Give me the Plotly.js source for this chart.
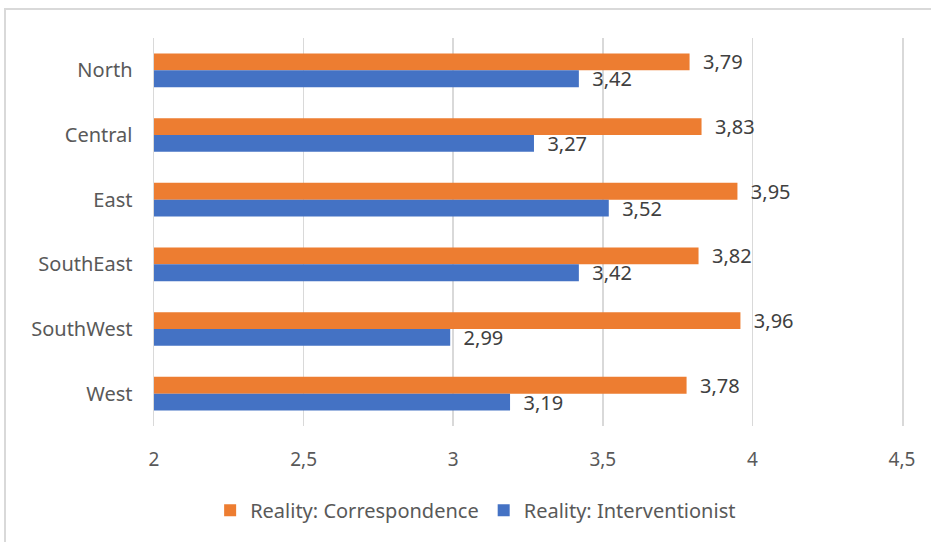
<!DOCTYPE html>
<html>
<head>
<meta charset="utf-8">
<script src="https://cdn.plot.ly/plotly-3.0.1.min.js"></script>
<style>
  html, body { margin: 0; padding: 0; background: #fff; }
  #wrap { position: relative; width: 931px; height: 542px; overflow: hidden; }
  #chart { position: absolute; left: 0; top: 0; width: 931px; height: 542px; }
  #frame { position: absolute; left: 4px; top: 8px; width: 940px; height: 560px;
           border-left: 2px solid #d9d9d9; border-top: 2px solid #d9d9d9; pointer-events: none; }
</style>
</head>
<body>
<div id="wrap">
  <div id="chart"></div>
  <div id="frame"></div>
</div>
<script>
const categories = ["North", "Central", "East", "SouthEast", "SouthWest", "West"];
const correspondence = [3.79, 3.83, 3.95, 3.82, 3.96, 3.78];
const interventionist = [3.42, 3.27, 3.52, 3.42, 2.99, 3.19];
const seriesNames = ["Reality: Correspondence", "Reality: Interventionist"];
const tickVals = [2, 2.5, 3, 3.5, 4, 4.5];

const FONT = "Noto Sans, Open Sans, sans-serif";
const pad = "\u00a0\u00a0";

const traces = [
  {
    type: "bar", orientation: "h", name: seriesNames[0],
    y: categories, x: correspondence,
    marker: { color: "#ED7D31" },
    texttemplate: pad + "%{x:.2f}", textposition: "outside", constraintext: "none",
    textfont: { family: FONT, size: 20, color: "#404040" },
    cliponaxis: false, hoverinfo: "skip"
  },
  {
    type: "bar", orientation: "h", name: seriesNames[1],
    y: categories, x: interventionist,
    marker: { color: "#4472C4" },
    texttemplate: pad + "%{x:.2f}", textposition: "outside", constraintext: "none",
    textfont: { family: FONT, size: 20, color: "#404040" },
    cliponaxis: false, hoverinfo: "skip"
  }
];

const layout = {
  width: 931, height: 542,
  margin: { l: 154, r: 29, t: 38, b: 112 },
  paper_bgcolor: "#ffffff", plot_bgcolor: "#ffffff",
  separators: ", ",
  barmode: "group",
  bargap: 0.48, bargroupgap: 0,
  showlegend: true,
  font: { family: FONT, size: 20, color: "#595959" },
  xaxis: {
    range: [2, 4.5], tickvals: tickVals,
    showgrid: true, gridcolor: "#d9d9d9", gridwidth: 1.5,
    zeroline: false, showline: false,
    ticks: "outside", ticklen: 16, tickcolor: "rgba(0,0,0,0)",
    tickfont: { family: FONT, size: 19, color: "#595959" },
    fixedrange: true
  },
  yaxis: {
    type: "category", autorange: "reversed",
    showgrid: false, zeroline: false,
    showline: true, mirror: true, linecolor: "#d9d9d9", linewidth: 1.5,
    ticks: "outside", ticklen: 16, tickcolor: "rgba(0,0,0,0)",
    tickfont: { family: FONT, size: 20, color: "#595959" },
    fixedrange: true
  },
  legend: {
    orientation: "h", x: 0.4300, xanchor: "center", y: -0.217, yanchor: "middle",
    font: { family: FONT, size: 20, color: "#595959" },
    itemwidth: 30, traceorder: "normal"
  }
};

Plotly.newPlot("chart", traces, layout, { displayModeBar: false, staticPlot: true });
</script>
</body>
</html>
